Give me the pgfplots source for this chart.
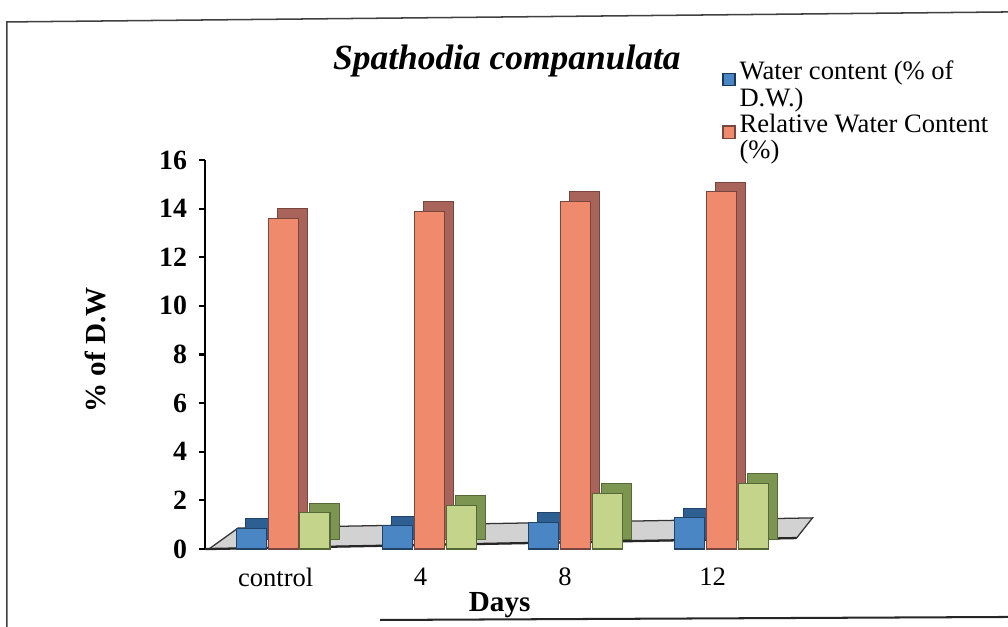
\documentclass[border=0pt]{standalone}
\usepackage{fontspec}
\setmainfont{Liberation Serif}
\usepackage{pgfplots}
\pgfplotsset{compat=1.18}
\definecolor{bluef}{HTML}{4A86C4}
\definecolor{blued}{HTML}{2E5F93}
\definecolor{orangef}{HTML}{F08A6C}
\definecolor{oranged}{HTML}{A8645A}
\definecolor{greenf}{HTML}{C4D48A}
\definecolor{greend}{HTML}{7C9550}
\definecolor{floorc}{HTML}{D2D2D2}
\begin{document}
\begin{tikzpicture}[x=1cm,y=1cm]
\path[use as bounding box] (0,0) rectangle (14,8.708);
% page frame of the photographed figure
\draw[black!75, line width=0.6pt] (0.097,0) -- (0.097,8.403) -- (14,8.542);
\draw[black!85, line width=0.8pt] (5.28,0.097) -- (14,0.139);
% title
\node[font=\fontsize{14}{16}\selectfont\bfseries\itshape] at (7.04,7.86) {Spathodia companulata};
% axis labels
\node[font=\fontsize{11.5}{13}\selectfont\bfseries, rotate=90] at (1.32,3.85) {\% of D.W};
\node[font=\fontsize{11.5}{13}\selectfont\bfseries] at (6.94,0.31) {Days};
\begin{axis}[
  at={(2.847cm,1.083cm)}, anchor=south west,
  scale only axis, width=8.472cm, height=5.403cm,
  xmin=-0.534, xmax=3.64, ymin=0, ymax=16,
  clip=false,
  axis y line*=left, axis x line*=bottom,
  x axis line style={draw=none},
  y axis line style={black, line width=0.9pt},
  ytick={0,2,...,16},
  tick align=outside, major tick length=0.09cm,
  ytick style={black, line width=0.8pt},
  xtick style={draw=none},
  xtick={-0.05,0.94,1.93,2.94},
  xticklabels={control,4,8,12},
  /pgf/number format/assume math mode=true,
  yticklabel style={font=\fontsize{11}{12}\selectfont\bfseries, xshift=-1pt},
  xticklabel style={font=\fontsize{10.5}{12}\selectfont, yshift=-1.5pt},
  legend style={at={(0.8475,1.255)}, anchor=north west, draw=none, fill=none,
    font=\fontsize{10.5}{10.5}\selectfont, row sep=0.5pt, column sep=0pt, inner sep=0pt,
    nodes={align=left, inner xsep=1.5pt, inner ysep=0pt}},
  legend cell align=left,
]
% floor of the 3-D chart
\fill[floorc, draw=black!80, line width=0.5pt]
  (axis cs:-0.507,0) -- (axis cs:3.514,0.45) -- (axis cs:3.623,1.28) -- (axis cs:-0.308,0.86) -- cycle;
\draw[black!85, line width=0.9pt] (axis cs:-0.534,0) -- (axis cs:-0.507,0) -- (axis cs:3.514,0.45);

% Water content (% of D.W.)
\addplot[ybar, bar width=0.4167cm, bar shift=-0.444cm, fill=blued, draw=blued!70!black,
  xshift=0.13cm, yshift=0.13cm, forget plot]
  coordinates {(0,0.85) (1,0.95) (2,1.1) (3,1.3)};
\addplot[ybar, bar width=0.4167cm, bar shift=-0.444cm, fill=bluef, draw=blued!70!black, forget plot]
  coordinates {(0,0.85) (1,0.95) (2,1.1) (3,1.3)};

% Relative Water Content (%)
\addplot[ybar, bar width=0.4167cm, bar shift=0cm, fill=oranged, draw=oranged!70!black,
  xshift=0.13cm, yshift=0.13cm, forget plot]
  coordinates {(0,13.6) (1,13.9) (2,14.3) (3,14.7)};
\addplot[ybar, bar width=0.4167cm, bar shift=0cm, fill=orangef, draw=oranged!70!black, forget plot]
  coordinates {(0,13.6) (1,13.9) (2,14.3) (3,14.7)};

% third series (not in legend)
\addplot[ybar, bar width=0.4167cm, bar shift=0.444cm, fill=greend, draw=greend!70!black,
  xshift=0.13cm, yshift=0.13cm, forget plot]
  coordinates {(0,1.5) (1,1.8) (2,2.3) (3,2.7)};
\addplot[ybar, bar width=0.4167cm, bar shift=0.444cm, fill=greenf, draw=greend!70!black, forget plot]
  coordinates {(0,1.5) (1,1.8) (2,2.3) (3,2.7)};

\addlegendimage{legend image code/.code={
   \fill[bluef, draw=blued!60!black, line width=0.5pt] (0cm,0cm) rectangle (0.167cm,0.167cm);
   \path[draw=none, fill=none] (0cm,-0.37cm) rectangle (0.01cm,-0.37cm);}}
\addlegendentry{Water content (\% of\\D.W.)}
\addlegendimage{legend image code/.code={
   \fill[orangef, draw=oranged!70!black, line width=0.5pt] (0cm,0cm) rectangle (0.167cm,0.167cm);
   \path[draw=none, fill=none] (0cm,-0.37cm) rectangle (0.01cm,-0.37cm);}}
\addlegendentry{Relative Water Content\\(\%)}
\end{axis}
\end{tikzpicture}
\end{document}
